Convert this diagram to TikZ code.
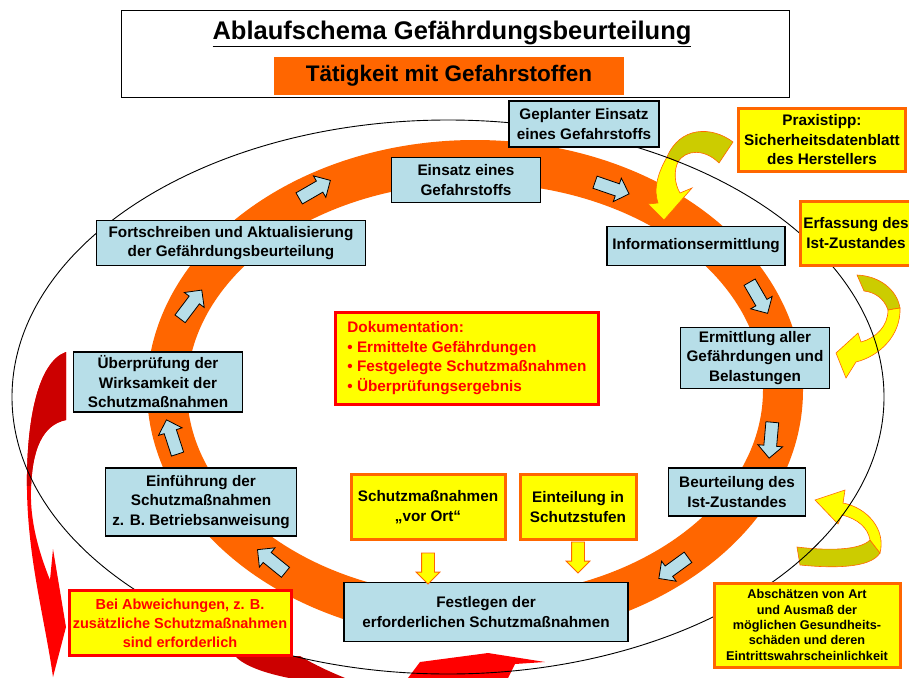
\documentclass[tikz,border=0pt]{standalone}
\usepackage{fontspec}
\setmainfont{Liberation Sans}
\usetikzlibrary{arrows.meta,positioning,calc,shapes.arrows}
\definecolor{gbOrange}{HTML}{FF6600}
\definecolor{gbBlue}{HTML}{B7DEE8}
\definecolor{gbYellow}{HTML}{FFFF00}
\definecolor{gbOlive}{HTML}{CCCC00}
\definecolor{gbRed}{HTML}{FF0000}
\definecolor{gbDarkRed}{HTML}{CC0000}
\def\leftredpath{(66,352) .. controls (38,362) and (26,420) .. (27,490)
  .. controls (28,560) and (45,620) .. (53,677) -- (66,627) -- (53,549) -- (50,580)
  .. controls (38,550) and (30,520) .. (31,490) .. controls (32,450) and (42,425) .. (66,420) -- cycle}

\begin{document}
\begin{tikzpicture}[x=1pt,y=-1pt,
    font=\fontsize{15.3}{19.5}\selectfont\bfseries,
    stepbox/.style={draw=black,line width=1.8pt,fill=gbBlue,align=center,inner sep=0pt},
    tippbox/.style={draw=gbOrange,line width=3pt,fill=gbYellow,align=center,inner sep=0pt},
    warnbox/.style={draw=gbRed,line width=3pt,fill=gbYellow,align=center,inner sep=0pt,text=gbRed},
    ringarrow/.style={single arrow,draw=black,line width=0.8pt,fill=gbBlue,inner sep=6pt,
                      minimum height=36pt,single arrow head extend=6pt},
    downarrow/.style={single arrow,draw=gbOrange,line width=0.8pt,fill=gbYellow,inner sep=6pt,
                      minimum height=31pt,single arrow head extend=5.5pt,rotate=-90},
    bentarrow/.style={draw=gbOrange,line width=0.6pt}]
  \useasboundingbox (0,0) rectangle (909,677);

  % orange cycle ring
  \fill[gbOrange,even odd rule] (475,390) ellipse [x radius=328,y radius=250]
                                (475,390) ellipse [x radius=288,y radius=207];

  % bent arrows from the hint boxes
  \filldraw[bentarrow,fill=gbOlive] (733,142) .. controls (712,126) and (680,126) .. (667,157)
    -- (678,162) .. controls (686,149) and (705,149) .. (719,163) -- cycle;
  \filldraw[bentarrow,fill=gbYellow] (667,157) .. controls (656,176) and (654,191) .. (658,203)
    -- (648,204) -- (664,220) -- (692,188) -- (680,193)
    .. controls (674,183) and (674,170) .. (678,162) -- cycle;
  \filldraw[bentarrow,fill=gbOlive] (857,275) .. controls (880,276) and (897,290) .. (900,308)
    -- (888,310) .. controls (884,298) and (874,292) .. (864,291) -- cycle;
  \filldraw[bentarrow,fill=gbYellow] (888,310) .. controls (888,326) and (876,338) .. (861,342)
    -- (858,333) -- (836,353) -- (846,378) -- (856,362)
    .. controls (880,356) and (901,335) .. (900,308) -- cycle;
  \filldraw[bentarrow,fill=gbOlive] (797,547) .. controls (830,551) and (860,550) .. (870,540)
    -- (880,553) .. controls (870,569) and (830,568) .. (800,565) -- cycle;
  \filldraw[bentarrow,fill=gbYellow] (870,540) .. controls (868,528) and (858,519) .. (842,515)
    -- (838,524) -- (815,500) -- (845,490) -- (843,503)
    .. controls (868,508) and (886,530) .. (880,553) -- cycle;

  % red return arrows
  \fill[gbRed] \leftredpath;
  \begin{scope}
    \clip (0,340) rectangle (120,485);
    \fill[gbDarkRed] \leftredpath;
  \end{scope}
  \fill[gbDarkRed] (235,656) -- (300,656) .. controls (315,665) and (330,672) .. (350,680)
    -- (300,680) .. controls (270,675) and (245,667) .. (235,656) -- cycle;
  \fill[gbRed] (405,682) -- (420,662) -- (488,653) -- (545,662) -- (515,664) -- (506,682) -- cycle;

  % outer ellipse
  \draw[line width=0.9pt] (448,397) ellipse [x radius=436,y radius=277];

  % heading
  \node[draw,line width=1.2pt,fill=white,minimum width=668pt,minimum height=87pt] (rahmen) at (455.5,54) {};
  \node[font=\fontsize{25.5}{30}\selectfont\bfseries] (titel) at (452,34)
    {\underline{Ablaufschema Gefährdungsbeurteilung}};
  \node[fill=gbOrange,minimum width=350pt,minimum height=38pt,
        font=\fontsize{22.5}{26}\selectfont\bfseries] (taetig) at (449,76) {Tätigkeit mit Gefahrstoffen};

  % steps of the cycle
  \node[stepbox,minimum width=150pt,minimum height=46pt] (geplant) at (584,124) {Geplanter Einsatz\\eines Gefahrstoffs};
  \node[stepbox,minimum width=149pt,minimum height=45pt] (einsatz) at (466,180) {Einsatz eines\\Gefahrstoffs};
  \node[stepbox,minimum width=178pt,minimum height=39pt] (info) at (696,246) {Informationsermittlung};
  \node[stepbox,minimum width=149pt,minimum height=61pt] (ermittl) at (755,358) {Ermittlung aller\\Gefährdungen und\\Belastungen};
  \node[stepbox,minimum width=137pt,minimum height=48pt] (beurt) at (737,492) {Beurteilung des\\Ist-Zustandes};
  \node[stepbox,minimum width=284pt,minimum height=59pt] (festl) at (486,612) {Festlegen der\\erforderlichen Schutzmaßnahmen};
  \node[stepbox,minimum width=191pt,minimum height=68pt] (einf) at (201,502) {Einführung der\\Schutzmaßnahmen\\z. B. Betriebsanweisung};
  \node[stepbox,minimum width=169pt,minimum height=60pt] (ueberpr) at (158,382) {Überprüfung der\\Wirksamkeit der\\Schutzmaßnahmen};
  \node[stepbox,minimum width=269pt,minimum height=45pt] (fortschr) at (231,243) {Fortschreiben und Aktualisierung\\der Gefährdungsbeurteilung};

  % hints
  \node[tippbox,minimum width=167pt,minimum height=63pt] (praxis) at (822,140) {Praxistipp:\\Sicherheitsdatenblatt\\des Herstellers};
  \node[tippbox,minimum width=111pt,minimum height=64pt] (erfass) at (856,233) {Erfassung des\\Ist-Zustandes};
  \node[tippbox,minimum width=186pt,minimum height=84pt,font=\fontsize{12.7}{15.3}\selectfont\bfseries] (abschaetz) at (807,625)
    {Abschätzen von Art\\und Ausmaß der\\möglichen Gesundheits-\\schäden und deren\\Eintrittswahrscheinlichkeit};
  \node[tippbox,minimum width=154pt,minimum height=65pt] (vorort) at (428,507) {Schutzmaßnahmen\\„vor Ort“};
  \node[tippbox,minimum width=116pt,minimum height=65pt] (stufen) at (578,507) {Einteilung in\\Schutzstufen};
  \node[warnbox,minimum width=222pt,minimum height=65pt,font=\fontsize{14.5}{19}\selectfont\bfseries] (abweich) at (180,623)
    {Bei Abweichungen, z. B.\\zusätzliche Schutzmaßnahmen\\sind erforderlich};
  \node[warnbox,minimum width=263pt,minimum height=92pt,align=left] (doku) at (467,358)
    {Dokumentation:\\• Ermittelte Gefährdungen\\• Festgelegte Schutzmaßnahmen\\• Überprüfungsergebnis};

  % arrows on the ring
  \node[ringarrow,rotate=30]   (r1) at (312,191) {};
  \node[ringarrow,rotate=-19]  (r2) at (609,187) {};
  \node[ringarrow,rotate=-60]  (r3) at (757,295) {};
  \node[ringarrow,rotate=-95]  (r4) at (771,437) {};
  \node[ringarrow,rotate=-144] (r5) at (676,566) {};
  \node[ringarrow,rotate=141]  (r6) at (274,563) {};
  \node[ringarrow,rotate=108]  (r7) at (173,440) {};
  \node[ringarrow,rotate=53]   (r8) at (189,307) {};

  % inputs to the measures
  \node[downarrow,xshift=4pt]  (d1) at ($(vorort.south)!.5!(vorort.south |- festl.north)$) {};
  \node[downarrow,xshift=-7pt] (d2) at ($(stufen.south)!.5!(stufen.south |- festl.north)$) {};
\end{tikzpicture}
\end{document}
